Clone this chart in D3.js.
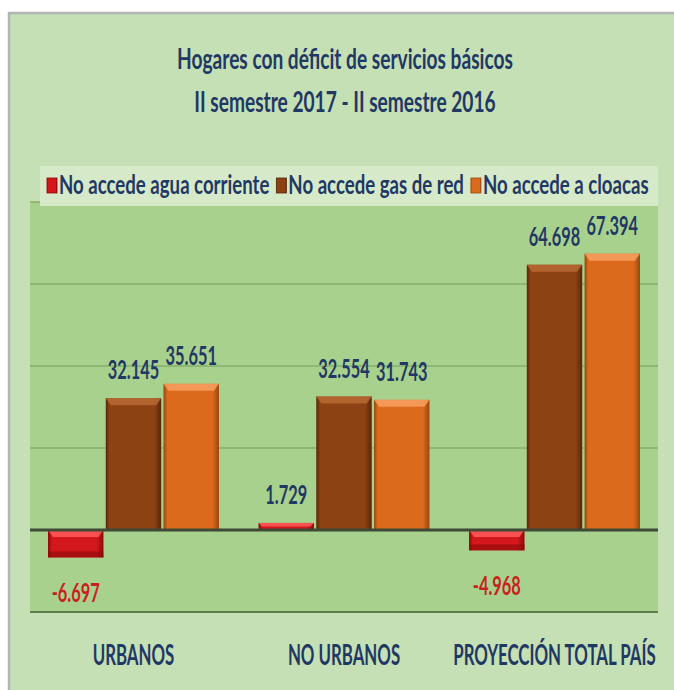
<!DOCTYPE html>
<html>
<head>
<meta charset="utf-8">
<script src="https://cdn.jsdelivr.net/npm/d3@7"></script>
<style>
  body { margin: 0; background: #fff; }
  svg { display: block; }
  text { font-family: Lato, "Open Sans", sans-serif; font-weight: bold; }
</style>
</head>
<body>
<svg width="674" height="690"></svg>
<script>
// chart values
let categories = ["URBANOS", "NO URBANOS", "PROYECCIÓN TOTAL PAÍS"];
let seriesNames = ["No accede agua corriente", "No accede gas de red", "No accede a cloacas"];
let aguaValues = [-6.697, 1.729, -4.968];
let gasValues = [32.145, 32.554, 64.698];
let cloacasValues = [35.651, 31.743, 67.394];
let yTicks = [-20, 0, 20, 40, 60, 80];
let titleLines = ["Hogares con déficit de servicios básicos", "II semestre 2017 - II semestre 2016"];

let svg = d3.select("svg");
let navy = "#1f3864";

// colours per series: base, light (bevel), dark (edge)
let palette = [
  { base: "#d3171b", light: "#ff5a5a", dark: "#8a0a0a" },
  { base: "#8d4213", light: "#b86a34", dark: "#552508" },
  { base: "#dc6a1c", light: "#f7a060", dark: "#97470f" }
];

let data = categories.map(function (c, i) {
  return { cat: c, values: [aguaValues[i], gasValues[i], cloacasValues[i]] };
});

let plot = { left: 30, right: 658 };

let x0 = d3.scaleBand().domain(categories).range([plot.left, plot.right])
  .paddingInner(0.188).paddingOuter(0.0855);
let x1 = d3.scaleBand().domain(d3.range(seriesNames.length)).range([0, x0.bandwidth()])
  .paddingInner(0.04);
let y = d3.scaleLinear().domain([-20, 80]).range([612, 202]);

// number format with comma-free hyphen
let fmt = function (v) { return d3.format(".3f")(v).replace("\u2212", "-"); };

// gradients
let defs = svg.append("defs");
palette.forEach(function (p, i) {
  let g = defs.append("linearGradient").attr("id", "grad" + i)
    .attr("x1", "0").attr("x2", "1").attr("y1", "0").attr("y2", "0");
  g.append("stop").attr("offset", "0").attr("stop-color", p.dark);
  g.append("stop").attr("offset", "0.07").attr("stop-color", p.base);
  g.append("stop").attr("offset", "0.88").attr("stop-color", p.base);
  g.append("stop").attr("offset", "1").attr("stop-color", p.dark);
});

// outer panel
svg.append("rect").attr("x", 8).attr("y", 12).attr("width", 666).attr("height", 678)
  .attr("fill", "#c5e0b4");
svg.append("path").attr("d", "M9,690 V13 H674").attr("fill", "none")
  .attr("stroke", "#b4b4b4").attr("stroke-width", 2.5);

// plot area
svg.append("rect").attr("x", plot.left).attr("y", y(80))
  .attr("width", plot.right - plot.left).attr("height", y(-20) - y(80))
  .attr("fill", "#a9d18e");

// gridlines
svg.append("g").selectAll("line")
  .data(yTicks.filter(function (t) { return t > 0; }))
  .enter().append("line")
  .attr("x1", plot.left).attr("x2", plot.right)
  .attr("y1", function (d) { return y(d); }).attr("y2", function (d) { return y(d); })
  .attr("stroke", "#86ad6c").attr("stroke-width", 1.5);

svg.append("line").attr("x1", plot.left).attr("x2", plot.right)
  .attr("y1", y(-20)).attr("y2", y(-20))
  .attr("stroke", "#5e7d4e").attr("stroke-width", 2);

// bars
let groups = svg.append("g").selectAll("g")
  .data(data).enter().append("g")
  .attr("transform", function (d) { return "translate(" + x0(d.cat) + ",0)"; });

let bars = groups.selectAll("g.bar")
  .data(function (d) { return d.values.map(function (v, i) { return { v: v, i: i }; }); })
  .enter().append("g").attr("class", "bar");

bars.append("rect")
  .attr("x", function (d) { return x1(d.i); })
  .attr("y", function (d) { return y(Math.max(0, d.v)); })
  .attr("width", x1.bandwidth())
  .attr("height", function (d) { return Math.abs(y(d.v) - y(0)); })
  .attr("fill", function (d) { return "url(#grad" + d.i + ")"; });

// bevel on the top face of each bar
bars.append("path")
  .attr("d", function (d) {
    let xa = x1(d.i), w = x1.bandwidth();
    let top = y(Math.max(0, d.v));
    let h = Math.min(7, Math.abs(y(d.v) - y(0)) / 2);
    let k = Math.min(5, h);
    return "M" + xa + "," + top + "H" + (xa + w) + "L" + (xa + w - k) + "," + (top + h) +
      "H" + (xa + k) + "Z";
  })
  .attr("fill", function (d) { return palette[d.i].light; })
  .attr("opacity", 0.85);

// darker bottom edge for the negative bars
bars.filter(function (d) { return d.v < 0; }).append("rect")
  .attr("x", function (d) { return x1(d.i); })
  .attr("y", function (d) { return y(d.v) - 6; })
  .attr("width", x1.bandwidth()).attr("height", 6)
  .attr("fill", function (d) { return palette[d.i].dark; })
  .attr("opacity", 0.6);

// zero line
svg.append("line").attr("x1", plot.left).attr("x2", plot.right)
  .attr("y1", y(0)).attr("y2", y(0))
  .attr("stroke", "#3e4a36").attr("stroke-width", 3);

// squeeze text horizontally, the picture is narrow
function squeezeText(sel, xx, yy, sx) {
  sel.attr("transform", "translate(" + xx + "," + yy + ") scale(" + sx + ",1)");
}

// value labels
bars.append("text")
  .attr("text-anchor", "middle")
  .attr("font-size", 26)
  .attr("fill", function (d) { return d.v < 0 ? "#c8221c" : navy; })
  .text(function (d) { return fmt(d.v); })
  .each(function (d) {
    let cx = x1(d.i) + x1.bandwidth() / 2;
    let yy = d.v < 0 ? y(d.v) + 45 : y(d.v) - 19;
    squeezeText(d3.select(this), cx, yy, 0.63);
  });

// category labels
svg.append("g").selectAll("text")
  .data(categories).enter().append("text")
  .attr("text-anchor", "middle")
  .attr("font-size", 29)
  .attr("fill", navy)
  .text(function (d) { return d; })
  .each(function (d) {
    squeezeText(d3.select(this), x0(d) + x0.bandwidth() / 2, 665, 0.58);
  });

// title
svg.append("g").selectAll("text")
  .data(titleLines).enter().append("text")
  .attr("text-anchor", "middle")
  .attr("font-size", 29)
  .attr("fill", navy)
  .text(function (d) { return d; })
  .each(function (d, i) {
    squeezeText(d3.select(this), 345, 69 + i * 43, 0.66);
  });

// legend
svg.append("rect").attr("x", 40).attr("y", 166).attr("width", 618).attr("height", 40)
  .attr("fill", "#d6e9c9");

let legend = svg.append("g");
let lx = 47;
seriesNames.forEach(function (name, i) {
  legend.append("rect").attr("x", lx).attr("y", 178).attr("width", 10).attr("height", 15)
    .attr("fill", "url(#grad" + i + ")")
    .attr("stroke", palette[i].dark).attr("stroke-width", 0.8);
  let t = legend.append("text")
    .attr("font-size", 27)
    .attr("fill", navy)
    .text(name);
  squeezeText(t, lx + 12, 194, 0.69);
  lx += 12 + t.node().getComputedTextLength() * 0.69 + 7;
});
</script>
</body>
</html>
